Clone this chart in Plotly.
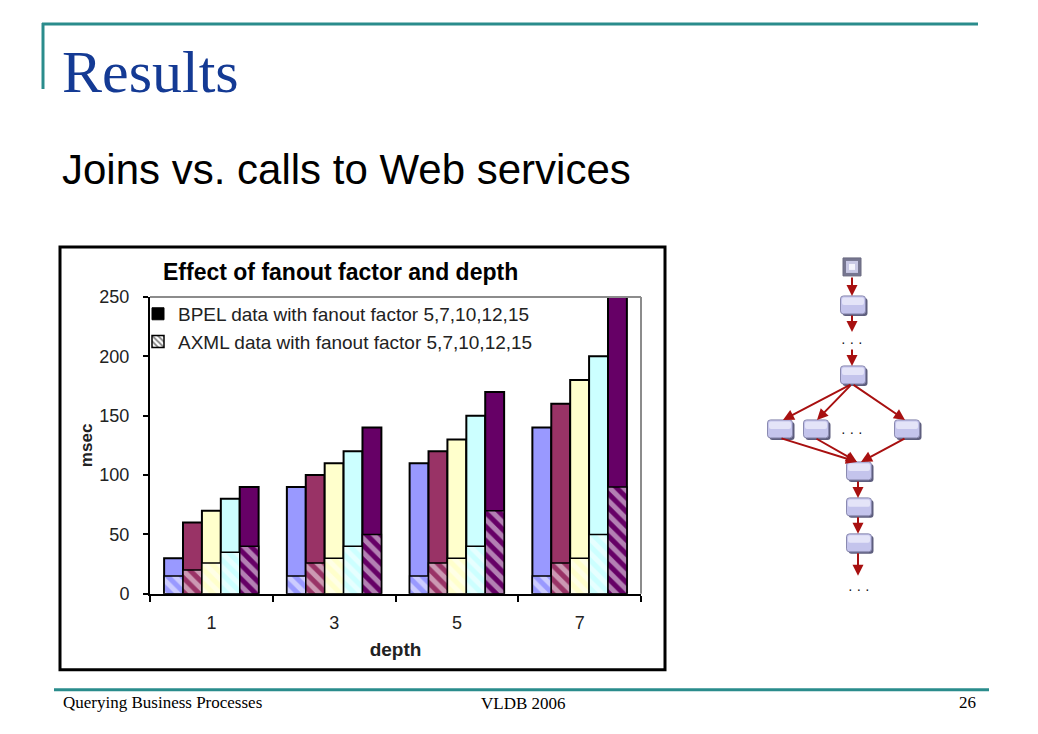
import plotly.graph_objects as go

W, H = 1038, 734

# ---------------- data ----------------
depths = ["1", "3", "5", "7"]
fanouts = ["5", "7", "10", "12", "15"]
bpel_f5 = [30, 90, 110, 140]
bpel_f7 = [60, 100, 120, 160]
bpel_f10 = [70, 110, 130, 180]
bpel_f12 = [80, 120, 150, 200]
bpel_f15 = [90, 140, 170, 250]
axml_f5 = [15, 15, 15, 15]
axml_f7 = [20, 26, 26, 26]
axml_f10 = [26, 30, 30, 30]
axml_f12 = [35, 40, 40, 50]
axml_f15 = [40, 50, 70, 90]
bpel = [bpel_f5, bpel_f7, bpel_f10, bpel_f12, bpel_f15]
axml = [axml_f5, axml_f7, axml_f10, axml_f12, axml_f15]
colors = ["#9999FF", "#993366", "#FFFFCC", "#CCFFFF", "#660066"]
legend_names = ["BPEL data with fanout factor 5,7,10,12,15",
                "AXML data with fanout factor 5,7,10,12,15"]
y_ticks = [0, 50, 100, 150, 200, 250]

VOFF, VSCALE = 10.0, 0.973


def px(x):
    return x / W


def py(y):
    return 1 - ((y - VOFF) / VSCALE) / H


fig = go.Figure()

# BPEL bars (solid)
for f, vals, col in zip(fanouts, bpel, colors):
    fig.add_trace(go.Bar(
        x=depths, y=vals, name="BPEL " + f, offsetgroup=f,
        marker=dict(color=col, line=dict(color="black", width=2)),
        showlegend=False, xaxis="x", yaxis="y"))

# AXML bars (hatched) overlaid at the same slots
for f, vals, col in zip(fanouts, axml, colors):
    fig.add_trace(go.Bar(
        x=depths, y=vals, name="AXML " + f, offsetgroup=f,
        marker=dict(color=col, line=dict(color="black", width=1.5),
                    pattern=dict(shape="\\", fgcolor="white", bgcolor=col,
                                 size=10, solidity=0.5, fillmode="overlay")),
        showlegend=False, xaxis="x", yaxis="y"))

# legend entries (dummy traces on the diagram axes)
fig.add_trace(go.Bar(x=[None], y=[None], name=legend_names[0],
                     marker=dict(color="black", line=dict(color="black", width=1)),
                     xaxis="x2", yaxis="y2"))
fig.add_trace(go.Bar(x=[None], y=[None], name=legend_names[1],
                     marker=dict(color="white", line=dict(color="black", width=1.5),
                                 pattern=dict(shape="\\", fgcolor="black", bgcolor="white",
                                              size=5, solidity=0.45)),
                     xaxis="x2", yaxis="y2"))

shapes = []
annotations = []

# ---------------- slide decoration ----------------
teal = "#2A8C8C"
shapes.append(dict(type="line", xref="paper", yref="paper", x0=px(42), x1=px(978),
                   y0=py(24), y1=py(24), line=dict(color=teal, width=3)))
shapes.append(dict(type="line", xref="paper", yref="paper", x0=px(43), x1=px(43),
                   y0=py(23), y1=py(89), line=dict(color=teal, width=3)))
shapes.append(dict(type="line", xref="paper", yref="paper", x0=px(54), x1=px(989),
                   y0=py(690), y1=py(690), line=dict(color=teal, width=3)))

annotations.append(dict(text="Results", xref="paper", yref="paper", x=px(60), y=py(72),
                        xanchor="left", yanchor="middle", showarrow=False,
                        font=dict(family="Liberation Serif", size=60, color="#143A94")))
annotations.append(dict(text="Joins vs. calls to Web services", xref="paper", yref="paper",
                        x=px(60), y=py(170), xanchor="left", yanchor="middle", showarrow=False,
                        font=dict(family="Liberation Sans", size=42, color="black")))
annotations.append(dict(text="Querying Business Processes", xref="paper", yref="paper",
                        x=px(61), y=py(703), xanchor="left", yanchor="middle", showarrow=False,
                        font=dict(family="Liberation Serif", size=17, color="black")))
annotations.append(dict(text="VLDB 2006", xref="paper", yref="paper",
                        x=px(479), y=py(704), xanchor="left", yanchor="middle", showarrow=False,
                        font=dict(family="Liberation Serif", size=17, color="black")))
annotations.append(dict(text="26", xref="paper", yref="paper",
                        x=px(978), y=py(703), xanchor="right", yanchor="middle", showarrow=False,
                        font=dict(family="Liberation Serif", size=17, color="black")))

# ---------------- chart box ----------------
shapes.append(dict(type="rect", xref="paper", yref="paper", x0=px(60), x1=px(665),
                   y0=py(670), y1=py(247), line=dict(color="black", width=3), layer="below"))
# gray plot border top/right
shapes.append(dict(type="line", xref="x domain", yref="y domain", x0=0, x1=1, y0=1, y1=1,
                   line=dict(color="#8C8C8C", width=2)))
shapes.append(dict(type="line", xref="x domain", yref="y domain", x0=1, x1=1, y0=0, y1=1,
                   line=dict(color="#8C8C8C", width=2)))

annotations.append(dict(text="<b>Effect of fanout factor and depth</b>", xref="paper", yref="paper",
                        x=px(340), y=py(272), xanchor="center", yanchor="middle", showarrow=False,
                        font=dict(family="Liberation Sans", size=23, color="black")))

# ---------------- diagram ----------------
node_cx = [853, 853, 780, 816, 907, 859, 859, 859]
node_cy = [305, 375, 429, 429, 429, 471, 507, 543]
node_w, node_h = 25, 18
start_cx, start_cy, start_s = 852, 267, 18
dots_x = [852, 852, 859]
dots_y = [342, 432, 589]
# arrows: (tail_x, tail_y, head_x, head_y)
arrows = [
    (852, 276, 852, 296),
    (852, 314, 852, 332),
    (852, 348, 852, 366),
    (852, 384, 783, 420),
    (852, 384, 817, 420),
    (852, 384, 905, 420),
    (780, 438, 857, 462),
    (815, 438, 857, 462),
    (906, 438, 861, 462),
    (858, 480, 858, 498),
    (858, 516, 858, 534),
    (858, 552, 858, 576),
]


def rrect_path(x0, y0, x1, y1, r):
    return (f"M{x0+r},{y0} L{x1-r},{y0} Q{x1},{y0} {x1},{y0+r} L{x1},{y1-r} "
            f"Q{x1},{y1} {x1-r},{y1} L{x0+r},{y1} Q{x0},{y1} {x0},{y1-r} "
            f"L{x0},{y0+r} Q{x0},{y0} {x0+r},{y0} Z")


for cx, cy in zip(node_cx, node_cy):
    x0, x1 = cx - node_w / 2, cx + node_w / 2
    y0, y1 = cy - node_h / 2, cy + node_h / 2
    shapes.append(dict(type="path", xref="x2", yref="y2",
                       path=rrect_path(x0 + 2, y0 + 2, x1 + 2, y1 + 2, 3),
                       fillcolor="#5E5E7E", line=dict(width=0)))
    shapes.append(dict(type="path", xref="x2", yref="y2",
                       path=rrect_path(x0, y0, x1, y1, 3),
                       fillcolor="#C4C4EC", line=dict(color="#8A8AB0", width=1)))
    shapes.append(dict(type="path", xref="x2", yref="y2",
                       path=rrect_path(x0 + 1.5, y0 + 1.5, x1 - 1.5, cy, 2),
                       fillcolor="#E4E4F8", line=dict(width=0)))

h = start_s / 2
shapes.append(dict(type="rect", xref="x2", yref="y2", x0=start_cx - h, x1=start_cx + h,
                   y0=start_cy - h, y1=start_cy + h, fillcolor="#767690",
                   line=dict(color="#6A6A80", width=1)))
shapes.append(dict(type="rect", xref="x2", yref="y2", x0=start_cx - h + 3, x1=start_cx + h - 3,
                   y0=start_cy - h + 3, y1=start_cy + h - 3, fillcolor="#C8C8E4",
                   line=dict(width=0)))
shapes.append(dict(type="rect", xref="x2", yref="y2", x0=start_cx - 3, x1=start_cx + 3,
                   y0=start_cy - 3, y1=start_cy + 3, fillcolor="#F4F4FC",
                   line=dict(width=0)))

for tx, ty, hx, hy in arrows:
    annotations.append(dict(x=hx, y=hy, ax=tx, ay=ty, xref="x2", yref="y2",
                            axref="x2", ayref="y2", text="", showarrow=True,
                            arrowhead=2, arrowsize=1.1, arrowwidth=2,
                            arrowcolor="#A81010", standoff=0, startstandoff=0))

for dx, dy in zip(dots_x, dots_y):
    annotations.append(dict(x=dx, y=dy, xref="x2", yref="y2", text="· · ·", showarrow=False,
                            font=dict(family="Liberation Sans", size=14, color="#111")))

axis_font = dict(family="Liberation Sans", size=18, color="#222")

fig.update_layout(
    width=W, height=H, autosize=False,
    margin=dict(l=0, r=0, t=0, b=0),
    paper_bgcolor="white", plot_bgcolor="white",
    barmode="group", bargap=0.23, bargroupgap=0,
    showlegend=True,
    legend=dict(x=px(138), y=py(295), xanchor="left", yanchor="top",
                bgcolor="rgba(0,0,0,0)", font=dict(family="Liberation Sans", size=19, color="#222"),
                tracegroupgap=0, itemclick=False, itemdoubleclick=False),
    xaxis=dict(domain=[px(150), px(641)], type="category", tickson="boundaries",
               ticks="outside", ticklen=6, tickcolor="black", tickwidth=1.5,
               showline=True, linecolor="black", linewidth=2, showgrid=False,
               tickfont=axis_font, ticklabelstandoff=12,
               title=dict(text="<b>depth</b>", font=dict(family="Liberation Sans", size=19,
                                                         color="#222"), standoff=10),
               anchor="y"),
    yaxis=dict(domain=[py(594), py(297)], range=[0, 250], tickvals=y_ticks,
               ticks="outside", ticklen=5, tickcolor="black", tickwidth=1.5,
               showline=True, linecolor="black", linewidth=2, showgrid=False,
               zeroline=False, tickfont=axis_font, ticklabelstandoff=10,
               title=dict(text="<b>msec</b>", font=dict(family="Liberation Sans", size=17,
                                                        color="#222"), standoff=2),
               anchor="x"),
    xaxis2=dict(domain=[px(760), px(930)], range=[760, 930], visible=False,
                anchor="y2", fixedrange=True),
    yaxis2=dict(domain=[py(610), py(250)], range=[610, 250], visible=False,
                anchor="x2", fixedrange=True),
    shapes=shapes,
    annotations=annotations,
)

fig.write_html("out.html")
